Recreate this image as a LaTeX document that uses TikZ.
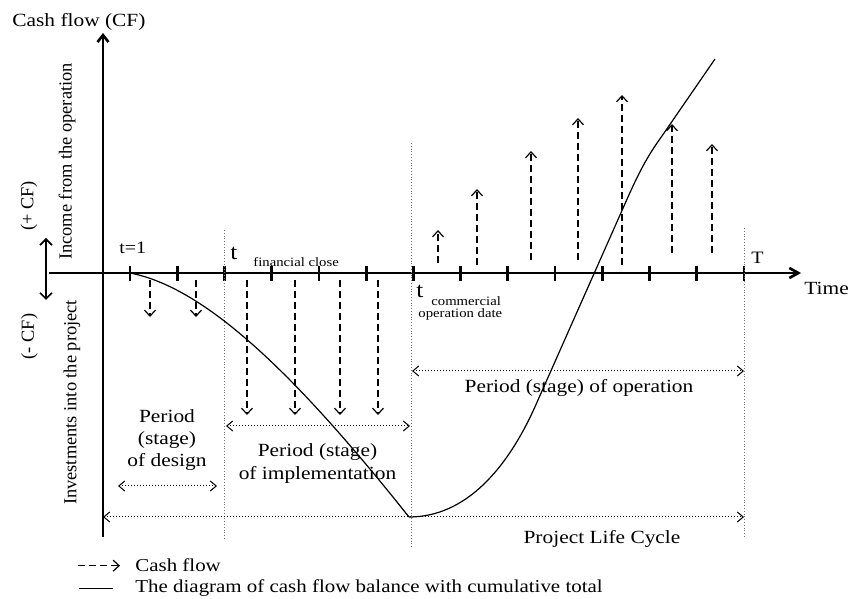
\documentclass[tikz,border=0pt]{standalone}
\usepackage{fontspec}
\setmainfont{Liberation Serif}[FakeStretch=1.15]
\newfontfamily\sidefont{Liberation Serif}
\usetikzlibrary{arrows.meta,positioning,calc}
\tikzset{
  axisline/.style={line width=1.3pt},
  tickmark/.style={line width=1.4pt},
  cflow/.style={dash pattern=on 3.5pt off 2pt,line width=0.6pt,
    -{Straight Barb[length=3pt,width=5.5pt]}},
  stageline/.style={densely dotted,line width=0.4pt,black!55},
  stagespan/.style={densely dotted,line width=0.5pt,
    {Straight Barb[length=3pt,width=5pt]}-{Straight Barb[length=3pt,width=5pt]}},
  balance/.style={line width=0.6pt},
  lbl/.style={font=\fontsize{9.3}{11.2}\selectfont,align=center,inner sep=0pt},
  small/.style={font=\fontsize{8.7}{10}\selectfont,inner sep=0pt},
  bigt/.style={font=\fontsize{11}{12}\selectfont,inner sep=0pt},
  sub/.style={font=\fontsize{6.4}{5.5}\selectfont,inner sep=0pt},
  sidelbl/.style={font=\sidefont\fontsize{9.2}{11}\selectfont,rotate=90,inner sep=0pt},
  legend/.style={font=\fontsize{9.1}{11}\selectfont,inner sep=0pt},
}

\begin{document}
\begin{tikzpicture}[x=0.5pt,y=-0.5pt]
  \useasboundingbox (0,0) rectangle (848,599);

  % axes
  \draw[axisline,-{Straight Barb[length=3.5pt,width=5.5pt]}] (103,537) -- (103,33);
  \draw[line width=0.6pt] (49,273) -- (82,273);
  \draw[axisline,-{Straight Barb[length=4.5pt,width=5pt]}] (82,273) -- (801,273);
  \foreach \k in {0,...,13}
    \draw[tickmark] ({130+47.23*\k},266) -- ({130+47.23*\k},281);

  % stage borders
  \draw[stageline] (224,230) -- (224,540);
  \draw[stageline] (411,143) -- (411,548);
  \draw[stageline] (744,228) -- (744,537);

  % investments (- CF) and income (+ CF)
  \foreach \x in {150,196}
    \draw[cflow] (\x,280) -- (\x,317);
  \foreach \x in {247,295,340,378}
    \draw[cflow] (\x,280) -- (\x,415);
  \foreach \x/\a/\b in {438/263/230,477/265/189,531/260/151,578/260/118,
                        622/265/95,672/253/124,712/253/144}
    \draw[cflow] (\x,\a) -- (\x,\b);

  % cumulative balance
  \draw[balance] (130,273) .. controls (208,288) and (300,380) .. (409,517);
  \draw[balance] (409,517) .. controls (465,517) and (508,470) .. (538,400)
    -- (628,197) .. controls (641,168) and (649,154) .. (662,136) -- (715,59);

  % periods
  \draw[stagespan] (118,486) -- (217,486);
  \draw[stagespan] (226,426) -- (410,426);
  \draw[stagespan] (412,371) -- (744,371);
  \draw[stagespan] (103,517) -- (744,517);
  \draw[line width=0.8pt,{Straight Barb[length=3pt,width=6pt]}-{Straight Barb[length=3pt,width=6pt]}]
    (46,238) -- (46,300);

  % labels
  \node[lbl,anchor=base west] (cfaxis) at (12,27) {Cash flow (CF)};
  \node[lbl,anchor=base west] (time) at (804,295) {Time};
  \node[small,anchor=base west] (tend) at (751,264) {T};
  \node[small,anchor=base west] (tone) at (119,254) {t=1};
  \node[bigt,anchor=base west] (tfin) at (230,260) {t};
  \node[sub,anchor=base west] (finsub) at (253,267) {financial close};
  \node[bigt,anchor=base west] (tcom) at (416,298) {t};
  \node[sub,anchor=base west] (comsub) at (431,306) {commercial};
  \node[sub,anchor=base west] (opsub) at (418,318) {operation date};

  \node[sidelbl] (income) at (67,161.5) {Income from the operation};
  \node[sidelbl] (invest) at (72,402.5) {Investments into the project};
  \node[sidelbl] (plus) at (29,206) {(+ CF)};
  \node[sidelbl] (minus) at (29.5,336.5) {(- CF)};

  \node[lbl] (design) at (167,440) {Period\\(stage)\\of design};
  \node[lbl] (implem) at (317.5,463.5) {Period (stage)\\of implementation};
  \node[lbl] (operat) at (579,388) {Period (stage) of operation};
  \node[lbl] (cycle) at (602,539) {Project Life Cycle};

  % legend
  \node[legend,anchor=base west] (legcf) at (135,572) {Cash flow};
  \node[legend,anchor=base west] (legbal) at (135,593)
    {The diagram of cash flow balance with cumulative total};
  \draw[cflow] ($(legcf.west)+(-57,0)$) -- ($(legcf.west)+(-15,0)$);
  \draw[balance] ($(legbal.west)+(-56,0)$) -- ($(legbal.west)+(-22,0)$);
\end{tikzpicture}
\end{document}
